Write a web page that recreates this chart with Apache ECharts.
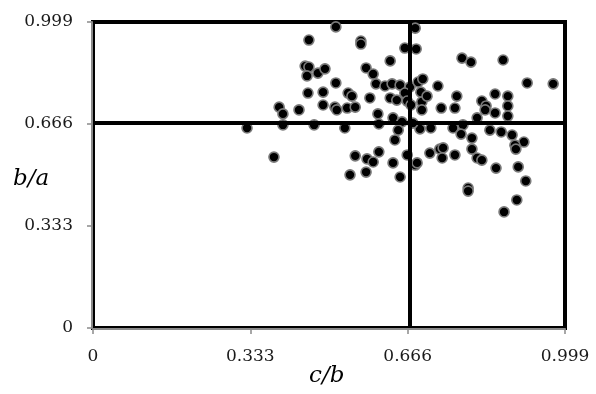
<!DOCTYPE html>
<html>
<head>
<meta charset="utf-8">
<script src="https://cdn.jsdelivr.net/npm/echarts@6/dist/echarts.min.js"></script>
<style>
  html, body { margin: 0; padding: 0; background: #fff; }
  #chart { width: 596px; height: 394px; }
</style>
</head>
<body>
<div id="chart"></div>
<script>
// Shape ratios: c/b on the horizontal axis, b/a on the vertical axis
const cOverB = [
  0.514, 0.457, 0.449, 0.457, 0.453, 0.476, 0.491, 0.514, 0.455, 0.487,
  0.487, 0.512, 0.516, 0.394, 0.402, 0.436, 0.326, 0.402, 0.468, 0.383,
  0.533, 0.567, 0.567, 0.660, 0.684, 0.682, 0.629, 0.578, 0.593, 0.599,
  0.618, 0.633, 0.650, 0.671, 0.688, 0.540, 0.548, 0.586, 0.629, 0.643,
  0.660, 0.538, 0.555, 0.665, 0.673, 0.603, 0.635, 0.654, 0.605, 0.639,
  0.555, 0.580, 0.593, 0.605, 0.635, 0.665, 0.682, 0.686, 0.544, 0.578,
  0.650, 0.694, 0.696, 0.781, 0.800, 0.868, 0.919, 0.974, 0.698, 0.730,
  0.707, 0.770, 0.696, 0.737, 0.766, 0.851, 0.878, 0.823, 0.832, 0.830,
  0.851, 0.878, 0.878, 0.813, 0.692, 0.715, 0.677, 0.762, 0.783, 0.779,
  0.802, 0.840, 0.864, 0.887, 0.912, 0.893, 0.895, 0.713, 0.734, 0.741,
  0.739, 0.766, 0.802, 0.813, 0.823, 0.853, 0.900, 0.916, 0.794, 0.794,
  0.897, 0.870, 0.646
];
const bOverA = [
  0.983, 0.940, 0.855, 0.852, 0.823, 0.832, 0.846, 0.800, 0.767, 0.770,
  0.728, 0.721, 0.712, 0.721, 0.699, 0.712, 0.653, 0.663, 0.663, 0.558,
  0.653, 0.937, 0.927, 0.914, 0.911, 0.979, 0.872, 0.849, 0.829, 0.797,
  0.790, 0.797, 0.793, 0.787, 0.803, 0.767, 0.757, 0.751, 0.751, 0.744,
  0.767, 0.718, 0.721, 0.741, 0.728, 0.699, 0.686, 0.673, 0.666, 0.614,
  0.562, 0.552, 0.542, 0.575, 0.539, 0.565, 0.532, 0.539, 0.500, 0.509,
  0.493, 0.770, 0.738, 0.881, 0.868, 0.875, 0.800, 0.797, 0.813, 0.790,
  0.757, 0.757, 0.712, 0.718, 0.718, 0.764, 0.757, 0.741, 0.725, 0.712,
  0.702, 0.725, 0.692, 0.686, 0.650, 0.653, 0.669, 0.653, 0.663, 0.633,
  0.620, 0.646, 0.640, 0.630, 0.607, 0.597, 0.584, 0.571, 0.584, 0.588,
  0.555, 0.565, 0.584, 0.555, 0.548, 0.522, 0.526, 0.480, 0.457, 0.447,
  0.418, 0.379, 0.646
];
const tickValues = [0, 0.333, 0.666, 0.999];
const tickLabels = ['0', '0.333', '0.666', '0.999'];
const xTitle = 'c/b';
const yTitle = 'b/a';
const threshold = 0.666;

const points = cOverB.map((x, i) => [x, bOverA[i]]);

function tickText(v) {
  let best = 0;
  tickValues.forEach((t, i) => {
    if (Math.abs(t - v) < Math.abs(tickValues[best] - v)) best = i;
  });
  return tickLabels[best];
}

const labelFont = {
  fontFamily: 'DejaVu Serif',
  fontSize: 17,
  color: '#1a1a1a'
};

const valueAxis = (pos) => ({
  type: 'value',
  position: pos,
  min: tickValues[0],
  max: tickValues[tickValues.length - 1],
  interval: tickValues[1] - tickValues[0],
  offset: 1,
  axisLine: { show: true, onZero: false, lineStyle: { color: '#8a8a8a', width: 2 } },
  axisTick: { show: true, length: 5, lineStyle: { color: '#8a8a8a', width: 1.5 } },
  splitLine: { show: false },
  axisLabel: Object.assign({ margin: 19, formatter: tickText, showMaxLabel: true, showMinLabel: true }, labelFont)
});

const chart = echarts.init(document.getElementById('chart'), null, { renderer: 'canvas' });
chart.setOption({
  animation: false,
  backgroundColor: '#ffffff',
  grid: {
    left: 93, right: 31, top: 22, bottom: 66,
    show: true,
    borderColor: '#000000',
    borderWidth: 4,
    backgroundColor: 'transparent'
  },
  xAxis: valueAxis('bottom'),
  yAxis: valueAxis('left'),
  graphic: [
    {
      type: 'text',
      left: 13, top: 168,
      style: {
        text: yTitle,
        font: 'italic 23px "DejaVu Serif"',
        fill: '#000'
      }
    },
    {
      type: 'text',
      left: 309, top: 365,
      style: {
        text: xTitle,
        font: 'italic 23px "DejaVu Serif"',
        fill: '#000'
      }
    }
  ],
  series: [
    {
      type: 'scatter',
      data: points,
      symbol: 'circle',
      symbolSize: 10,
      itemStyle: { color: '#000000', borderColor: '#7a7a7a', borderWidth: 1.6, opacity: 1 },
      z: 2
    },
    {
      type: 'scatter',
      data: [],
      z: 5,
      markLine: {
        silent: true,
        symbol: ['none', 'none'],
        label: { show: false },
        lineStyle: { color: '#000000', width: 4, type: 'solid' },
        data: [{ xAxis: threshold }, { yAxis: threshold }],
        z: 5
      }
    }
  ]
});
</script>
</body>
</html>
